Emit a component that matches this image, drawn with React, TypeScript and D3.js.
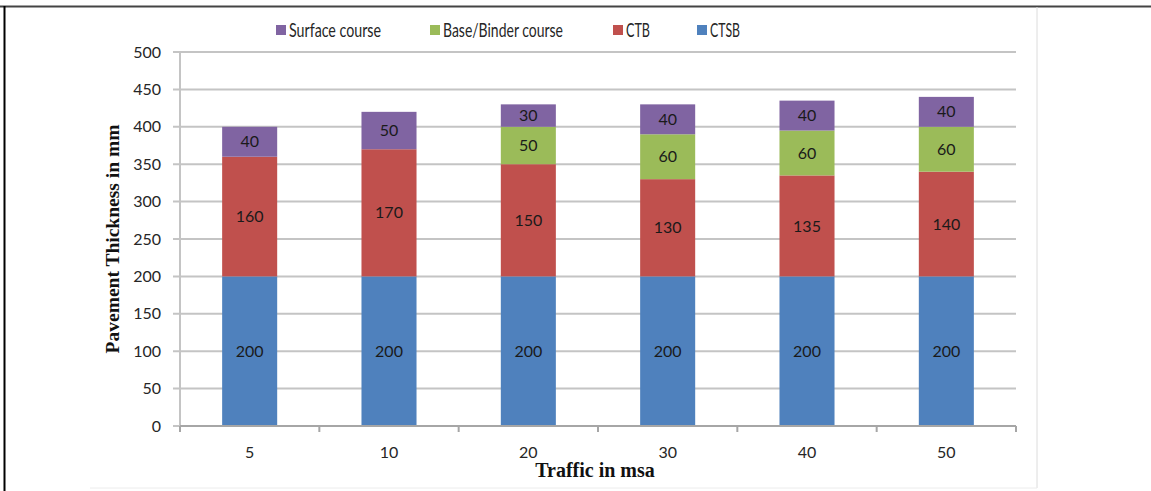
import React from "react";
import * as d3 from "d3";

const categories = ["5", "10", "20", "30", "40", "50"];
const ctsb = [200, 200, 200, 200, 200, 200];
const ctb = [160, 170, 150, 130, 135, 140];
const baseBinder = [0, 0, 50, 60, 60, 60];
const surface = [40, 50, 30, 40, 40, 40];
const yTicks = [0, 50, 100, 150, 200, 250, 300, 350, 400, 450, 500];

const seriesNames = ["CTSB", "CTB", "Base/Binder course", "Surface course"];
const seriesColors = ["#4f81bd", "#c0504d", "#9bbb59", "#8064a2"];
const legendOrder = ["Surface course", "Base/Binder course", "CTB", "CTSB"];
const legendX = [276, 430, 613, 697];
const legendTextW = [92, 120, 24, 30];

const W = 1151;
const H = 491;
const left = 180;
const right = 1016;
const top = 52;
const bottom = 426;

export default function App() {
  const rows = categories.map((c, i) => ({
    cat: c,
    "CTSB": ctsb[i],
    "CTB": ctb[i],
    "Base/Binder course": baseBinder[i],
    "Surface course": surface[i],
  }));
  const stack = d3.stack<any>().keys(seriesNames);
  const stacked = stack(rows);
  const x = d3.scaleBand().domain(categories).range([left, right]).paddingInner(0.605).paddingOuter(0.3025);
  const xc = d3.scaleBand().domain(categories).range([left, right]);
  const y = d3.scaleLinear().domain([0, 500]).range([bottom, top]);
  const font = "Lato, 'Open Sans', sans-serif";
  const tickColor = "#262626";
  const serif = "'Liberation Serif', 'Times New Roman', serif";

  return (
    <svg width={W} height={H} style={{ position: "absolute", left: 0, top: 0, background: "#fff" }}>
      {/* frame */}
      <line x1={0} x2={W} y1={6.5} y2={6.5} stroke="#444" strokeWidth={2} />
      <line x1={4.5} x2={4.5} y1={6} y2={491} stroke="#000" strokeWidth={2} />
      <line x1={1037} x2={1037} y1={7} y2={488} stroke="#dcdcdc" strokeWidth={1} />
      <line x1={90} x2={1037} y1={488} y2={488} stroke="#ececec" strokeWidth={1} />

      {/* gridlines */}
      {yTicks.map((t) => (
        <line key={"g" + t} x1={173} x2={right} y1={y(t)} y2={y(t)} stroke="#c4c4c4" strokeWidth={2} />
      ))}
      {/* y axis */}
      <line x1={left} x2={left} y1={top} y2={bottom} stroke="#c4c4c4" strokeWidth={2} />
      {yTicks.map((t) => (
        <text key={"yt" + t} x={161} y={y(t)} dy="0.35em" textAnchor="end" fontFamily={font} fontSize={16} fill={tickColor}>
          {t}
        </text>
      ))}
      {/* bars */}
      {stacked.map((s, si) =>
        s.map((d, i) => {
          const v = d[1] - d[0];
          if (v <= 0) return null;
          return (
            <g key={si + "-" + i}>
              <rect x={x(categories[i])} width={x.bandwidth()} y={y(d[1])} height={y(d[0]) - y(d[1])} fill={seriesColors[si]} />
              <text x={(x(categories[i]) as number) + x.bandwidth() / 2} y={(y(d[0]) + y(d[1])) / 2} dy="0.35em" textAnchor="middle" fontFamily={font} fontSize={16} fill="#1a1a1a">
                {v}
              </text>
            </g>
          );
        })
      )}
      {/* x axis */}
      <line x1={left} x2={right} y1={bottom} y2={bottom} stroke="#a6a6a6" strokeWidth={2} />
      {categories.map((c) => (
        <line key={"xt" + c} x1={xc(c)} x2={xc(c)} y1={bottom} y2={bottom + 6} stroke="#a6a6a6" strokeWidth={2} />
      ))}
      <line x1={right} x2={right} y1={bottom} y2={bottom + 6} stroke="#a6a6a6" strokeWidth={2} />
      {categories.map((c) => (
        <text key={"xl" + c} x={(xc(c) as number) + xc.bandwidth() / 2} y={452} dy="0.35em" textAnchor="middle" fontFamily={font} fontSize={16} fill={tickColor}>
          {c}
        </text>
      ))}
      {/* axis titles */}
      <text x={(left + right) / 2 - 3} y={470} dy="0.35em" textAnchor="middle" fontFamily={serif} fontWeight="bold" fontSize={20} fill="#111">
        Traffic in msa
      </text>
      <text transform={`translate(112,${(top + bottom) / 2}) rotate(-90)`} dy="0.35em" textAnchor="middle" fontFamily={serif} fontWeight="bold" fontSize={19.5} fill="#111">
        Pavement Thickness in mm
      </text>
      {/* legend */}
      {legendOrder.map((name, i) => {
        const ci = seriesNames.indexOf(name);
        return (
          <g key={"lg" + name}>
            <rect x={legendX[i]} y={25} width={10} height={10} fill={seriesColors[ci]} />
            <text x={legendX[i] + 13} y={30} dy="0.35em" fontFamily={font} fontSize={19} fill={tickColor} textLength={legendTextW[i]} lengthAdjust="spacingAndGlyphs">
              {name}
            </text>
          </g>
        );
      })}
    </svg>
  );
}
